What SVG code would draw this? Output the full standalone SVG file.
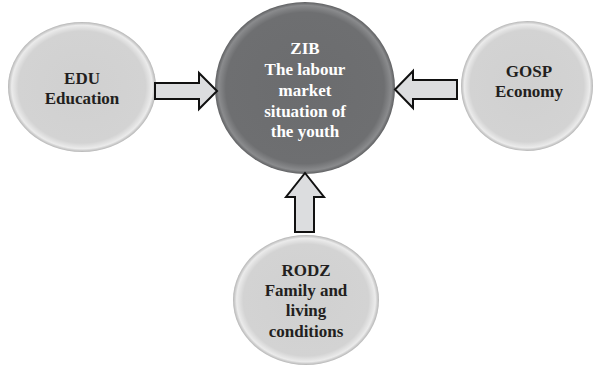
<svg xmlns="http://www.w3.org/2000/svg" width="593" height="366" viewBox="0 0 593 366">
<defs>
<radialGradient id="lg" cx="50%" cy="50%" r="50%">
<stop offset="0%" stop-color="#d0d0d0"/>
<stop offset="86%" stop-color="#d3d3d3"/>
<stop offset="95%" stop-color="#ebebeb"/>
<stop offset="100%" stop-color="#b5b5b5"/>
</radialGradient>
<radialGradient id="dg" cx="50%" cy="50%" r="50%">
<stop offset="0%" stop-color="#6b6c6e"/>
<stop offset="88%" stop-color="#6e6f71"/>
<stop offset="96%" stop-color="#8a8b8d"/>
<stop offset="100%" stop-color="#5e5f61"/>
</radialGradient>
<style>
.lt{fill:url(#lg);}
.dk{fill:url(#dg);}
.t{font-family:"Liberation Serif","Times New Roman",serif;font-weight:bold;font-size:17px;text-anchor:middle;fill:#231f20;}
.w{fill:#ffffff;}
.ar{fill:#dcdddf;stroke:#111111;stroke-width:2;stroke-linejoin:miter;}
</style>
</defs>
<g id="ZIB">
<ellipse class="dk" cx="305" cy="88" rx="90" ry="86"/>
<text class="t w" x="305" y="54">ZIB</text>
<text class="t w" x="305" y="75">The labour</text>
<text class="t w" x="305" y="96">market</text>
<text class="t w" x="305" y="117">situation of</text>
<text class="t w" x="305" y="137">the youth</text>
</g>
<g id="EDU">
<ellipse class="lt" cx="82" cy="87" rx="74" ry="65"/>
<text class="t" x="82" y="84">EDU</text>
<text class="t" x="82" y="104">Education</text>
</g>
<g id="GOSP">
<ellipse class="lt" cx="527" cy="86" rx="66" ry="65"/>
<text class="t" x="529" y="77">GOSP</text>
<text class="t" x="529" y="97">Economy</text>
</g>
<g id="RODZ">
<ellipse class="lt" cx="306" cy="300" rx="73" ry="65"/>
<text class="t" x="306" y="276">RODZ</text>
<text class="t" x="306" y="296">Family and</text>
<text class="t" x="306" y="316">living</text>
<text class="t" x="306" y="337">conditions</text>
</g>
<g id="connectors">
<path class="ar" d="M155,83 H199 V73 L217,91 L199,109 V99 H155 Z"/>
<path class="ar" d="M457,80 H413 V71 L395,89.5 L413,108 V99 H457 Z"/>
<path class="ar" d="M295,232 V197 H286 L305,173 L324,197 H314 V232 Z"/>
</g>
</svg>
